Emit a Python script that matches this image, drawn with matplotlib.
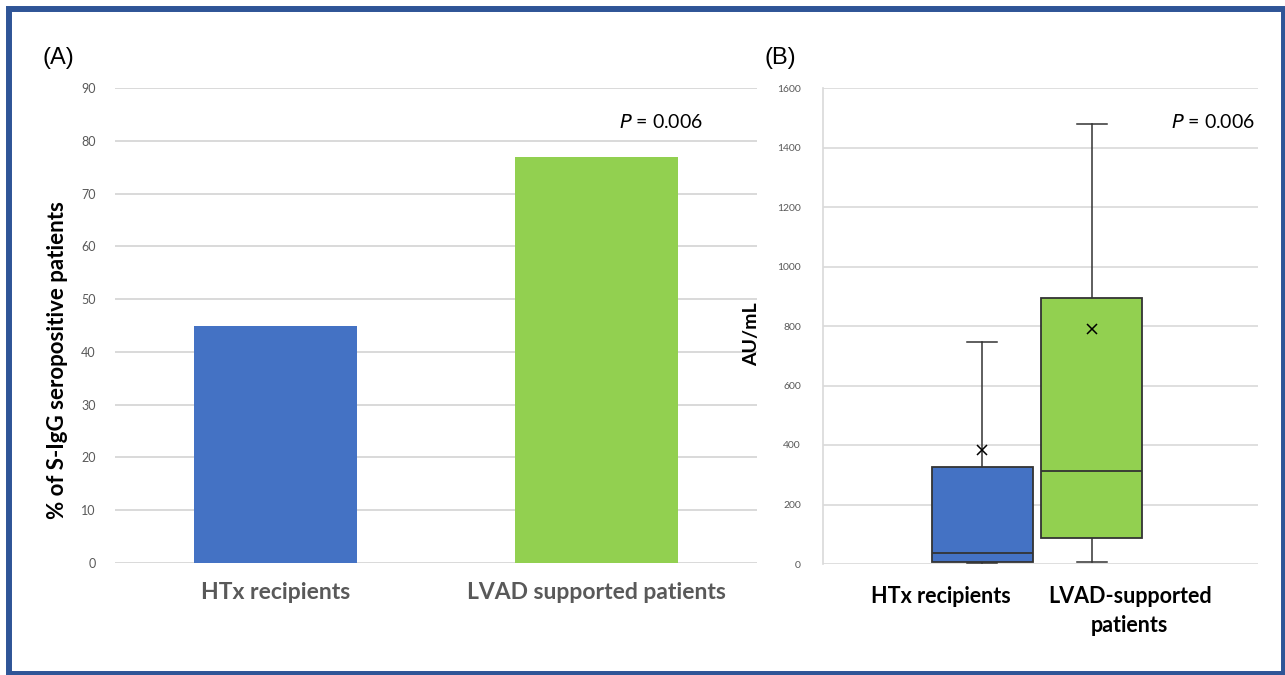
import matplotlib.pyplot as plt
from matplotlib.patches import Rectangle

# ---- data, panel A ----
groups_a = ["HTx recipients", "LVAD supported patients"]
pct_seropositive = [45, 77]

# ---- data, panel B (box stats) ----
groups_b = ["HTx recipients", "LVAD-supported\npatients"]
whisk_low = [2, 8]
q1 = [8, 87]
median = [37, 313]
q3 = [326, 894]
whisk_high = [746, 1479]
mean = [383, 790]

colors = ["#4472C4", "#92D050"]
grid_c = "#D9D9D9"
tick_c = "#595959"
font = "Lato"

W, H = 1285, 675
fig = plt.figure(figsize=(W / 100, H / 100), dpi=100)
fig.patch.set_facecolor("white")

# blue frame round the whole figure (pixel coords, top-down)
x0, y0, x1, y1 = 9, 9, 1284, 674
fig.patches.append(Rectangle((x0 / W, 1 - y1 / H), (x1 - x0) / W, (y1 - y0) / H,
                             transform=fig.transFigure, fill=False,
                             edgecolor="#2F5597", linewidth=4.3))

# ------ Panel A --------
axA = fig.add_axes([115 / W, (H - 563) / H, 642 / W, 475 / H])
axA.bar(range(len(groups_a)), pct_seropositive, width=0.51, color=colors, zorder=3)
axA.set_xlim(-0.5, 1.5)
axA.set_ylim(0, 90)
axA.set_yticks(range(0, 91, 10))
axA.yaxis.grid(True, color=grid_c, linewidth=1.4, zorder=0)
for s in axA.spines.values():
    s.set_visible(False)
axA.tick_params(axis="y", length=0, pad=14, labelsize=9, labelcolor=tick_c)
axA.tick_params(axis="x", length=0, pad=14)
axA.set_xticks(range(len(groups_a)))
axA.set_xticklabels(groups_a, fontsize=16.5, fontweight="bold", color=tick_c, family=font)
for lab in axA.get_yticklabels():
    lab.set_family(font)
fig.text(57 / W, 1 - 360 / H, "% of S-IgG seropositive patients", fontsize=16,
         fontweight="bold", family=font, rotation=90, ha="center", va="center")
axA.text(1.2, 83.5, r"$\it{P}$ = 0.006", fontsize=14, ha="center", va="center", family=font)
fig.text(42 / W, 1 - 58 / H, "(A)", fontsize=17, va="center", family="Liberation Sans")

# ------ Panel B --------
axB = fig.add_axes([823 / W, (H - 564) / H, 435 / W, 476 / H])
stats = []
for i in range(len(groups_b)):
    stats.append(dict(whislo=whisk_low[i], q1=q1[i], med=median[i], q3=q3[i],
                      whishi=whisk_high[i], mean=mean[i], fliers=[]))
bp = axB.bxp(stats, positions=[0.366, 0.618], widths=0.232, capwidths=0.068,
             showmeans=True, patch_artist=True, manage_ticks=False,
             boxprops=dict(edgecolor="#333333", linewidth=1.3),
             medianprops=dict(color="#333333", linewidth=1.3),
             whiskerprops=dict(color="#333333", linewidth=1.1),
             capprops=dict(color="#333333", linewidth=1.1),
             meanprops=dict(marker="x", markeredgecolor="black", markersize=7, markeredgewidth=1.1))
for patch, c in zip(bp["boxes"], colors):
    patch.set_facecolor(c)
    patch.set_zorder(3)
for art in bp["medians"] + bp["means"]:
    art.set_zorder(4)
axB.set_xlim(0, 1)
axB.set_ylim(0, 1600)
axB.set_yticks(range(0, 1601, 200))
axB.yaxis.grid(True, color=grid_c, linewidth=1.2, zorder=0)
axB.set_axisbelow(True)
for k in ["top", "right", "bottom"]:
    axB.spines[k].set_visible(False)
axB.spines["left"].set_color(grid_c)
axB.spines["left"].set_linewidth(1.2)
axB.tick_params(axis="y", length=0, pad=16, labelsize=7.5, labelcolor=tick_c)
for lab in axB.get_yticklabels():
    lab.set_family(font)
axB.set_xticks([0.27, 0.705])
axB.set_xticklabels(groups_b, fontsize=15.5, fontweight="bold", family=font, va="top",
                    linespacing=1.45)
axB.tick_params(axis="x", length=0, pad=16)
fig.text(752 / W, 1 - 334 / H, "AU/mL", fontsize=14, fontweight="bold", family=font,
         rotation=90, ha="center", va="center")
axB.text(0.897, 1485, r"$\it{P}$ = 0.006", fontsize=14, ha="center", va="center", family=font)
fig.text(765 / W, 1 - 58 / H, "(B)", fontsize=17, va="center", family="Liberation Sans")

plt.savefig("out.png", dpi=100)
